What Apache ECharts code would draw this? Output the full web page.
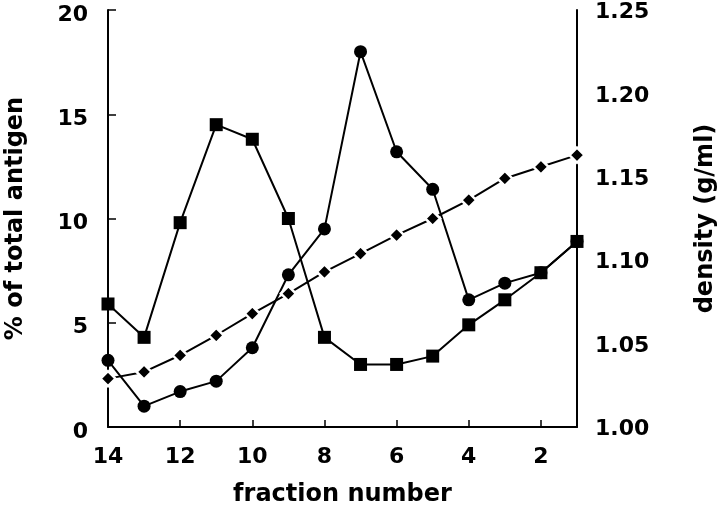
<!DOCTYPE html>
<html>
<head>
<meta charset="utf-8">
<script src="https://cdn.jsdelivr.net/npm/echarts@6/dist/echarts.min.js"></script>
<style>
  html, body { margin: 0; padding: 0; background: #fff; }
  #chart { width: 720px; height: 508px; }
</style>
</head>
<body>
<div id="chart"></div>
<script>
// fractions, read right to left (14 -> 1)
var fractions = ["14", "13", "12", "11", "10", "9", "8", "7", "6", "5", "4", "3", "2", "1"];
// % of total antigen
var squareValues = [5.9, 4.3, 9.8, 14.5, 13.8, 10.0, 4.3, 3.0, 3.0, 3.4, 4.9, 6.1, 7.4, 8.9];
var circleValues = [3.2, 1.0, 1.7, 2.2, 3.8, 7.3, 9.5, 18.0, 13.2, 11.4, 6.1, 6.9, 7.4, 8.9];
// density (g/ml), right axis
var densityValues = [1.029, 1.033, 1.043, 1.055, 1.068, 1.080, 1.093, 1.104, 1.115, 1.125, 1.136, 1.149, 1.156, 1.163];

var font = "DejaVu Sans";
var chart = echarts.init(document.getElementById("chart"));

// tick labels sit a little below their ticks in the original
var labelText = { fontFamily: font, fontWeight: "bold", fontSize: 22, color: "#000" };

var option = {
  animation: false,
  backgroundColor: "#fff",
  grid: { left: 108, right: 143, top: 10, bottom: 81, outerBoundsMode: "none" },
  xAxis: {
    type: "category",
    data: fractions,
    boundaryGap: false,
    name: "fraction number",
    nameLocation: "middle",
    nameGap: 56,
    nameTextStyle: { fontFamily: font, fontWeight: "bold", fontSize: 24, color: "#000" },
    axisLine: { lineStyle: { color: "#000", width: 2 } },
    axisTick: { inside: true, length: 7, interval: 1, lineStyle: { color: "#000", width: 1.5 } },
    axisLabel: { interval: 1, margin: 19, fontFamily: font, fontWeight: "bold", fontSize: 22, color: "#000" },
    splitLine: { show: false }
  },
  yAxis: [
    {
      type: "value",
      min: 0,
      max: 20,
      interval: 5,
      name: "% of total antigen",
      nameLocation: "middle",
      nameRotate: 90,
      nameGap: 80,
      nameTextStyle: { fontFamily: font, fontWeight: "bold", fontSize: 24, color: "#000" },
      axisLine: { show: true, lineStyle: { color: "#000", width: 2 } },
      axisTick: { show: true, inside: true, length: 8, lineStyle: { color: "#000", width: 1.5 } },
      axisLabel: {
        margin: 20,
        formatter: function (v) { return "{a|" + v + "}"; },
        rich: { a: Object.assign({ padding: [10, 0, 0, 0] }, labelText) }
      },
      splitLine: { show: false }
    },
    {
      type: "value",
      position: "right",
      min: 1.0,
      max: 1.25,
      interval: 0.05,
      name: "density (g/ml)",
      nameLocation: "middle",
      nameRotate: 90,
      nameGap: 117,
      nameTextStyle: { fontFamily: font, fontWeight: "bold", fontSize: 24, color: "#000" },
      axisLine: { show: true, lineStyle: { color: "#000", width: 2 } },
      axisTick: { show: false },
      axisLabel: {
        margin: 18,
        formatter: function (v) { return "{a|" + v.toFixed(2) + "}"; },
        rich: { a: Object.assign({ padding: [5, 0, 0, 0] }, labelText) }
      },
      splitLine: { show: false }
    }
  ],
  series: [
    {
      name: "density",
      type: "line",
      yAxisIndex: 1,
      data: densityValues,
      symbol: "diamond",
      symbolSize: 15,
      lineStyle: { color: "#000", width: 2 },
      itemStyle: { color: "#000", borderColor: "#fff", borderWidth: 2.5 }
    },
    {
      name: "circles",
      type: "line",
      data: circleValues,
      symbol: "circle",
      symbolSize: 13,
      lineStyle: { color: "#000", width: 2 },
      itemStyle: { color: "#000" }
    },
    {
      name: "squares",
      type: "line",
      data: squareValues,
      symbol: "rect",
      symbolSize: 13,
      lineStyle: { color: "#000", width: 2 },
      itemStyle: { color: "#000" }
    }
  ]
};

chart.setOption(option);
</script>
</body>
</html>
